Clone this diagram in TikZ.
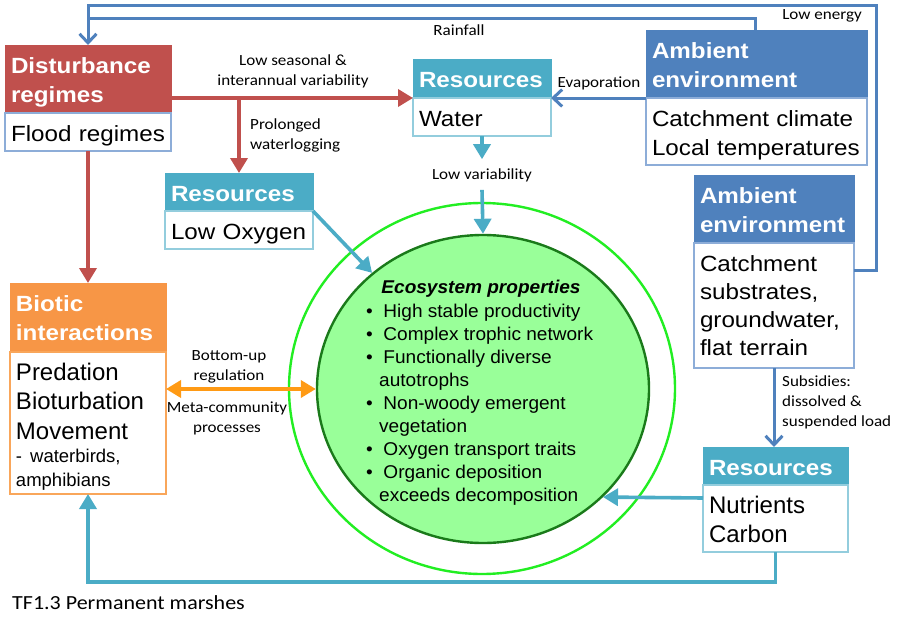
\documentclass[tikz,border=0pt]{standalone}
\usepackage{fontspec}
\setmainfont[FakeStretch=1.1]{Liberation Sans}
\newfontfamily\plain{Liberation Sans}
\newfontfamily\elfont[FakeStretch=1.03]{Liberation Sans}
\newfontfamily\calib[FakeStretch=1.1]{Carlito}
\usetikzlibrary{arrows.meta,shapes.geometric}
\definecolor{cRed}{HTML}{C0504D}
\definecolor{cTeal}{HTML}{4BACC6}
\definecolor{cBlue}{HTML}{4F81BD}
\definecolor{cOrange}{HTML}{F79646}
\definecolor{cOrArrow}{HTML}{FF9A14}
\definecolor{cBlueLt}{HTML}{8DADD8}
\definecolor{cTealLt}{HTML}{93CDDD}
\definecolor{cOrLt}{HTML}{F9A65A}
\definecolor{cGreenFill}{HTML}{99FF99}
\definecolor{cGreenDark}{HTML}{1A7A1A}
\definecolor{cGreenLight}{HTML}{22EE22}
\begin{document}
\begin{tikzpicture}[x=1pt,y=-1pt,
  box/.style={anchor=north west, inner xsep=6pt, inner ysep=0pt, align=left, outer sep=0pt, text height=28pt},
  hd/.style={box, font=\fontsize{22}{29}\selectfont\bfseries, text=white},
  bd/.style={box, font=\fontsize{22}{29}\selectfont, fill=white, line width=1.4pt},
  lbl/.style={font=\calib\fontsize{15.5}{20}\selectfont, align=center, inner sep=0pt},
  redarr/.style={draw=cRed, line width=3.6pt, -{Triangle[length=15pt,width=17pt]}},
  tealarr/.style={draw=cTeal, line width=3.6pt, -{Triangle[length=15pt,width=17pt]}},
  blueline/.style={draw=cBlue, line width=3pt},
  bluearr/.style={draw=cBlue, line width=3pt, -{Straight Barb[length=9pt,width=17pt]}},
  orarr/.style={draw=cOrArrow, line width=3.6pt, {Triangle[length=15pt,width=17pt]}-{Triangle[length=15pt,width=17pt]}},
]
\useasboundingbox (0,0) rectangle (903,629);
\fill[white] (0,0) rectangle (903,629);

% ellipses
\node[ellipse, draw=cGreenLight, line width=2.4pt, minimum width=386pt, minimum height=371pt, inner sep=0pt] (outer) at (482,388.5) {};
\node[ellipse, draw=cGreenDark, fill=cGreenFill, line width=2.4pt, minimum width=332pt, minimum height=308pt, inner sep=0pt] (inner) at (483,389) {};
\node[font=\elfont\fontsize{18.5}{23.1}\selectfont\bfseries\itshape, anchor=base, inner sep=0pt] (eptitle) at (481,293) {Ecosystem properties};
\node[font=\elfont\fontsize{18.5}{23.1}\selectfont, anchor=north west, align=left, inner sep=0pt] (eplist) at (366,303.5)
 {\textbullet\ \ High stable productivity\\
  \textbullet\ \ Complex trophic network\\
  \textbullet\ \ Functionally diverse\\
  \hspace*{13pt}autotrophs\\
  \textbullet\ \ Non-woody emergent\\
  \hspace*{13pt}vegetation\\
  \textbullet\ \ Oxygen transport traits\\
  \textbullet\ \ Organic deposition\\
  \hspace*{13pt}exceeds decomposition};

% boxes
\node[hd, fill=cRed, draw=cRed, text width=154pt, text depth=40pt] (dist-h) at (5,45) {Disturbance\\regimes};
\node[bd, draw=cBlueLt, text width=154pt, text depth=10pt] (dist-b) at (5,113) {Flood regimes};

\node[hd, fill=cTeal, draw=cTeal, text width=126pt, text depth=11pt] (wat-h) at (413,59) {Resources};
\node[bd, draw=cTealLt, text width=126pt, text depth=10pt] (wat-b) at (413,98) {Water};

\node[hd, fill=cTeal, draw=cTeal, text width=136pt, text depth=10pt] (oxy-h) at (165,173) {Resources};
\node[bd, draw=cTealLt, text width=136pt, text depth=10pt] (oxy-b) at (165,211) {Low Oxygen};

\node[hd, fill=cBlue, draw=cBlue, text width=209pt, text depth=40pt] (amb1-h) at (646,30) {Ambient\\environment};
\node[bd, draw=cBlueLt, text width=209pt, text depth=39pt] (amb1-b) at (646,98) {Catchment climate\\Local temperatures};

\node[hd, fill=cBlue, draw=cBlue, text width=148pt, text depth=40pt] (amb2-h) at (694,175) {Ambient\\environment};
\node[bd, draw=cBlueLt, text width=148pt, text depth=97pt, font=\fontsize{22}{28.3}\selectfont] (amb2-b) at (694,243) {Catchment\\substrates,\\groundwater,\\flat terrain};

\node[hd, fill=cTeal, draw=cTeal, text width=133pt, text depth=10pt] (nut-h) at (703,447) {Resources};
\node[bd, draw=cTealLt, text width=133pt, text depth=39pt, font=\plain\fontsize{24}{29.5}\selectfont] (nut-b) at (703,485) {Nutrients\\Carbon};

\node[hd, fill=cOrange, draw=cOrange, text width=144pt, text depth=41pt] (bio-h) at (10,283) {Biotic\\interactions};
\node[bd, draw=cOrLt, text width=144pt, text depth=114pt, font=\plain\fontsize{24}{29.5}\selectfont] (bio-b) at (10,352)
 {Predation\\Bioturbation\\Movement\par{\fontsize{18.5}{23.5}\selectfont - waterbirds,\\amphibians\par}};

% coordinates for loops
\coordinate (loopNE) at (876,5);
\coordinate (loopSW) at (88,582);

% blue loops
\draw[blueline] ([yshift=-27pt]amb2-b.north east) -| (loopNE) -| ([yshift=27pt]dist-h.north);
\draw[bluearr] ([xshift=109pt]amb1-h.north west) |- ([yshift=27pt]dist-h.north) -- (dist-h.north);
\draw[bluearr] (amb1-h.south west) -- (wat-h.south east);
\draw[bluearr] (amb2-b.south) -- (amb2-b.south |- nut-h.north);

% red
\draw[redarr] (dist-h.east |- wat-b.north west) -- (wat-b.north west);
\draw[redarr] (oxy-h.north |- wat-b.north west) -- (oxy-h.north);
\draw[redarr] (dist-b.south) -- (bio-h.north);

% teal
\node[lbl] (lowvar) at (482,175) {Low variability};
\draw[tealarr] (wat-b.south) -- ([yshift=9pt]lowvar.north);
\draw[tealarr] ([yshift=-8pt]lowvar.south) -- (inner.north);
\draw[tealarr] (oxy-h.south east) -- (inner);
\draw[tealarr] ([yshift=-13pt]nut-b.north west) -- (inner.318);
\draw[tealarr] (nut-b.south) |- (loopSW) -- (bio-b.south);

% orange
\draw[orarr] (bio-b.east |- inner.west) -- (inner.west);

% labels
\node[lbl] (l-seas) at (293,71) {Low seasonal \&\\interannual variability};
\node[lbl] (l-rain) at (459,30) {Rainfall};
\node[lbl] (l-evap) at (599,83) {Evaporation};
\node[lbl] (l-lowe) at (822,16) {Low energy};
\node[lbl, anchor=west, align=left] (l-prol) at (250,135) {Prolonged\\waterlogging};
\node[lbl, anchor=west, align=left] (l-subs) at (782,402) {Subsidies:\\dissolved \&\\suspended load};
\node[lbl] (l-bott) at (229,367) {Bottom-up\\regulation};
\node[lbl] (l-meta) at (227,418) {Meta-community\\processes};
\node[font=\calib\fontsize{20}{24}\selectfont, anchor=west, inner sep=0pt] (title) at (12,603) {TF1.3 Permanent marshes};
\end{tikzpicture}
\end{document}
